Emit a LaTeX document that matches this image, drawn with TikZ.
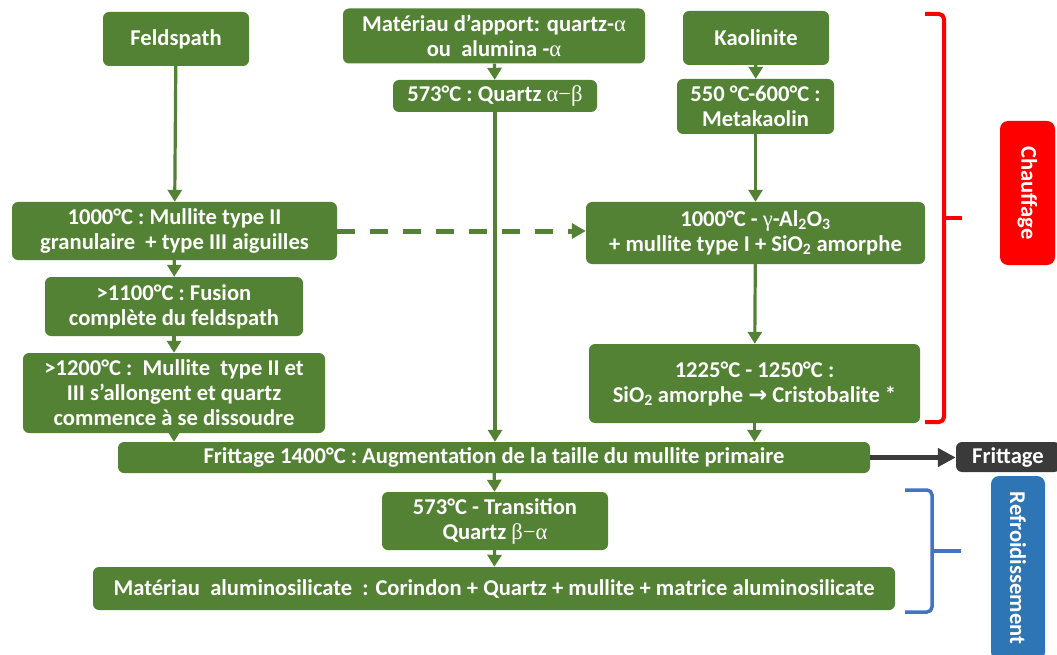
\documentclass[tikz,border=0pt]{standalone}
\usepackage{fontspec}
\setmainfont{Carlito}
\newfontfamily\grk{Liberation Serif}
\newfontfamily\symb{DejaVu Sans}
\usetikzlibrary{arrows.meta}

\definecolor{vert}{HTML}{548235}
\definecolor{rouge}{HTML}{FF0000}
\definecolor{bleu}{HTML}{2E75B6}
\definecolor{bleuac}{HTML}{4472C4}
\definecolor{gris}{HTML}{3A3A3A}

\tikzset{
  etape/.style={fill=vert, rounded corners=6pt, text=white, align=center, inner sep=0pt,
    font=\bfseries\fontsize{22.6}{25}\selectfont},
  fleche/.style={draw=vert, line width=3.2pt, -{Triangle[width=14pt,length=12pt]}},
}

\begin{document}
\begin{tikzpicture}[x=1pt,y=-1pt]
    \useasboundingbox (0,0) rectangle (1057,655);

    % colonne feldspath
    \node[etape, minimum width=146, minimum height=54] (feld) at (176,39) {Feldspath};
    \node[etape, minimum width=325, minimum height=58] (mul2) at (174.5,231) {1000°C : Mullite type II\\granulaire\ \ + type III aiguilles};
    \node[etape, minimum width=258, minimum height=59] (fus) at (174,306.5) {>1100°C : Fusion\\complète du feldspath};
    \node[etape, minimum width=302, minimum height=80] (diss) at (174,393) {>1200°C :\ \ Mullite\ \ type II et\\III s’allongent et quartz\\commence à se dissoudre};

    % colonne quartz
    \node[etape, minimum width=302, minimum height=55] (mat) at (494,36) {Matériau d’apport: quartz-{\mdseries\grk α}\\ou\ \ alumina -{\mdseries\grk α}};
    \node[etape, minimum width=204, minimum height=32] (q573) at (495,96) {573°C : Quartz {\mdseries\grk α−β}};

    % colonne kaolinite
    \node[etape, minimum width=146, minimum height=54] (kao) at (756,38) {Kaolinite};
    \node[etape, minimum width=157, minimum height=55] (meta) at (755.5,106.5) {550 °C-600°C :\\Metakaolin};
    \node[etape, minimum width=339, minimum height=62] (gam) at (755.5,233) {1000°C - {\mdseries\grk γ}-Al\textsubscript{2}O\textsubscript{3}\\+ mullite type I + SiO\textsubscript{2} amorphe};
    \node[etape, minimum width=331, minimum height=79] (cri) at (754.5,383.5) {1225°C - 1250°C :\\SiO\textsubscript{2} amorphe {\symb →} Cristobalite *};

    % frittage et refroidissement
    \node[etape, minimum width=752, minimum height=31] (fri) at (494,457.5) {Frittage 1400°C : Augmentation de la taille du mullite primaire};
    \node[etape, minimum width=226, minimum height=58] (trans) at (495,521) {573°C - Transition\\Quartz {\mdseries\grk β−α}};
    \node[etape, minimum width=802, minimum height=43] (alu) at (494,588.5) {Matériau\ \ aluminosilicate\ \ : Corindon + Quartz + mullite + matrice aluminosilicate};

    \node[etape, fill=gris, minimum width=104, minimum height=30] (frit) at (1008,457) {Frittage};
    \node[etape, fill=rouge, rounded corners=8pt, rotate=-90, minimum width=144, minimum height=55] (chauf) at (1027.5,193) {Chauffage};
    \node[etape, fill=bleu, rounded corners=8pt, rotate=-90, minimum width=184, minimum height=54] (refr) at (1018,568) {Refroidissement};

    \draw[fleche] (feld) -- (mul2);
    \draw[fleche] (mul2) -- (fus);
    \draw[fleche] (fus) -- (diss);
    \draw[fleche] (diss.south) -- (diss.south |- fri.north);
    \draw[fleche] (mat) -- (q573);
    \draw[fleche] (q573.south) -- (q573.south |- fri.north);
    \draw[fleche] (kao) -- (meta);
    \draw[fleche] (meta) -- (gam);
    \draw[fleche] (gam) -- (cri);
    \draw[fleche] (cri.south) -- (cri.south |- fri.north);
    \draw[fleche] (fri) -- (trans);
    \draw[fleche] (trans) -- (alu);
    \draw[fleche, line width=5pt, dash pattern=on 18pt off 15pt, -{Triangle[width=15pt,length=14pt]}] (mul2.east) -- (mul2.east -| gam.west);
    \draw[draw=gris, line width=4.5pt, -{Triangle[width=18pt,length=18pt]}] (fri.east) -- (fri.east -| frit.west);

    % accolades
    \draw[rouge, line width=4pt, rounded corners=5pt] (925,14) -- (944,14) -- (944,422) -- (925,422);
    \draw[rouge, line width=4pt] (944,218) -- (962,218);
    \draw[bleuac, line width=3.5pt, rounded corners=5pt] (905,490) -- (932,490) -- (932,612) -- (905,612);
    \draw[bleuac, line width=3.5pt] (932,551) -- (961,551);
\end{tikzpicture}
\end{document}
